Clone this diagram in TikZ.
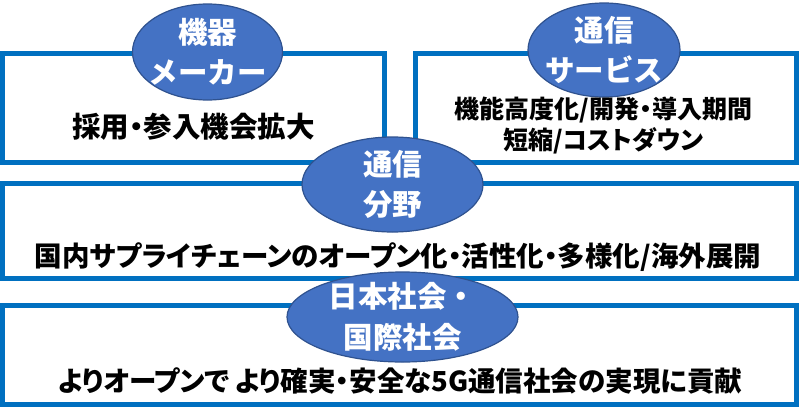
\documentclass[tikz,border=0pt]{standalone}
\usepackage{fontspec}
\setmainfont{Noto Sans CJK JP}
\newfontfamily\jpp{Noto Sans CJK JP}[RawFeature=+palt]
\usetikzlibrary{shapes.geometric}
\definecolor{boxblue}{HTML}{0070C0}
\definecolor{ellblue}{HTML}{4472C4}
\definecolor{ellline}{HTML}{2F528F}
\begin{document}
\begin{tikzpicture}[x=1pt,y=-1pt,
  frame/.style={draw=boxblue,line width=5pt},
  bubble/.style={ellipse,fill=ellblue,draw=ellline,line width=1.2pt,inner sep=0pt},
  bubbletext/.style={text=white,font=\fontsize{29.5}{40.5}\selectfont\bfseries,align=center,inner sep=0pt},
  boxtext/.style={text=black,font=\jpp\fontsize{#1}{31}\selectfont\bfseries,align=center,inner sep=0pt}]
\useasboundingbox (0,0) rectangle (799,415);
% frames
\draw[frame] (2.5,53) rectangle (384.5,162);
\draw[frame] (415,53) rectangle (796.5,162);
\draw[frame] (2.5,183) rectangle (796.5,278.5);
\draw[frame] (2.5,305) rectangle (796.5,404);
% bubbles
\node[bubble,minimum width=150pt,minimum height=96pt] (e1) at (207.5,52) {};
\node[bubbletext] (t1) at (e1.center) {機器\\メーカー};
\node[bubble,minimum width=152pt,minimum height=94pt] (e2) at (604,50) {};
\node[bubbletext] (t2) at (e2.center) {通信\\サービス};
\node[bubble,minimum width=181pt,minimum height=95pt] (e3) at (392.5,184.5) {};
\node[bubbletext] (t3) at (e3.center) {通信\\分野};
\node[bubble,minimum width=231pt,minimum height=90pt] (e4) at (402.5,317) {};
\node[bubbletext] (t4) at (e4.center) {日本社会・\\国際社会};
% box texts
\node[boxtext=28.5] (b1) at (193.5,127) {採用・参入機会拡大};
\node[boxtext=25] (b2) at (603.5,125.5) {機能高度化/開発・導入期間\\短縮/コストダウン};
\node[boxtext=27.5] (b3) at (398,257) {国内サプライチェーンのオープン化・活性化・多様化/海外展開};
\node[boxtext=27.5] (b4) at (400,381) {よりオープンで\hspace{5pt}より確実・安全な5G通信社会の実現に貢献};
\end{tikzpicture}
\end{document}
